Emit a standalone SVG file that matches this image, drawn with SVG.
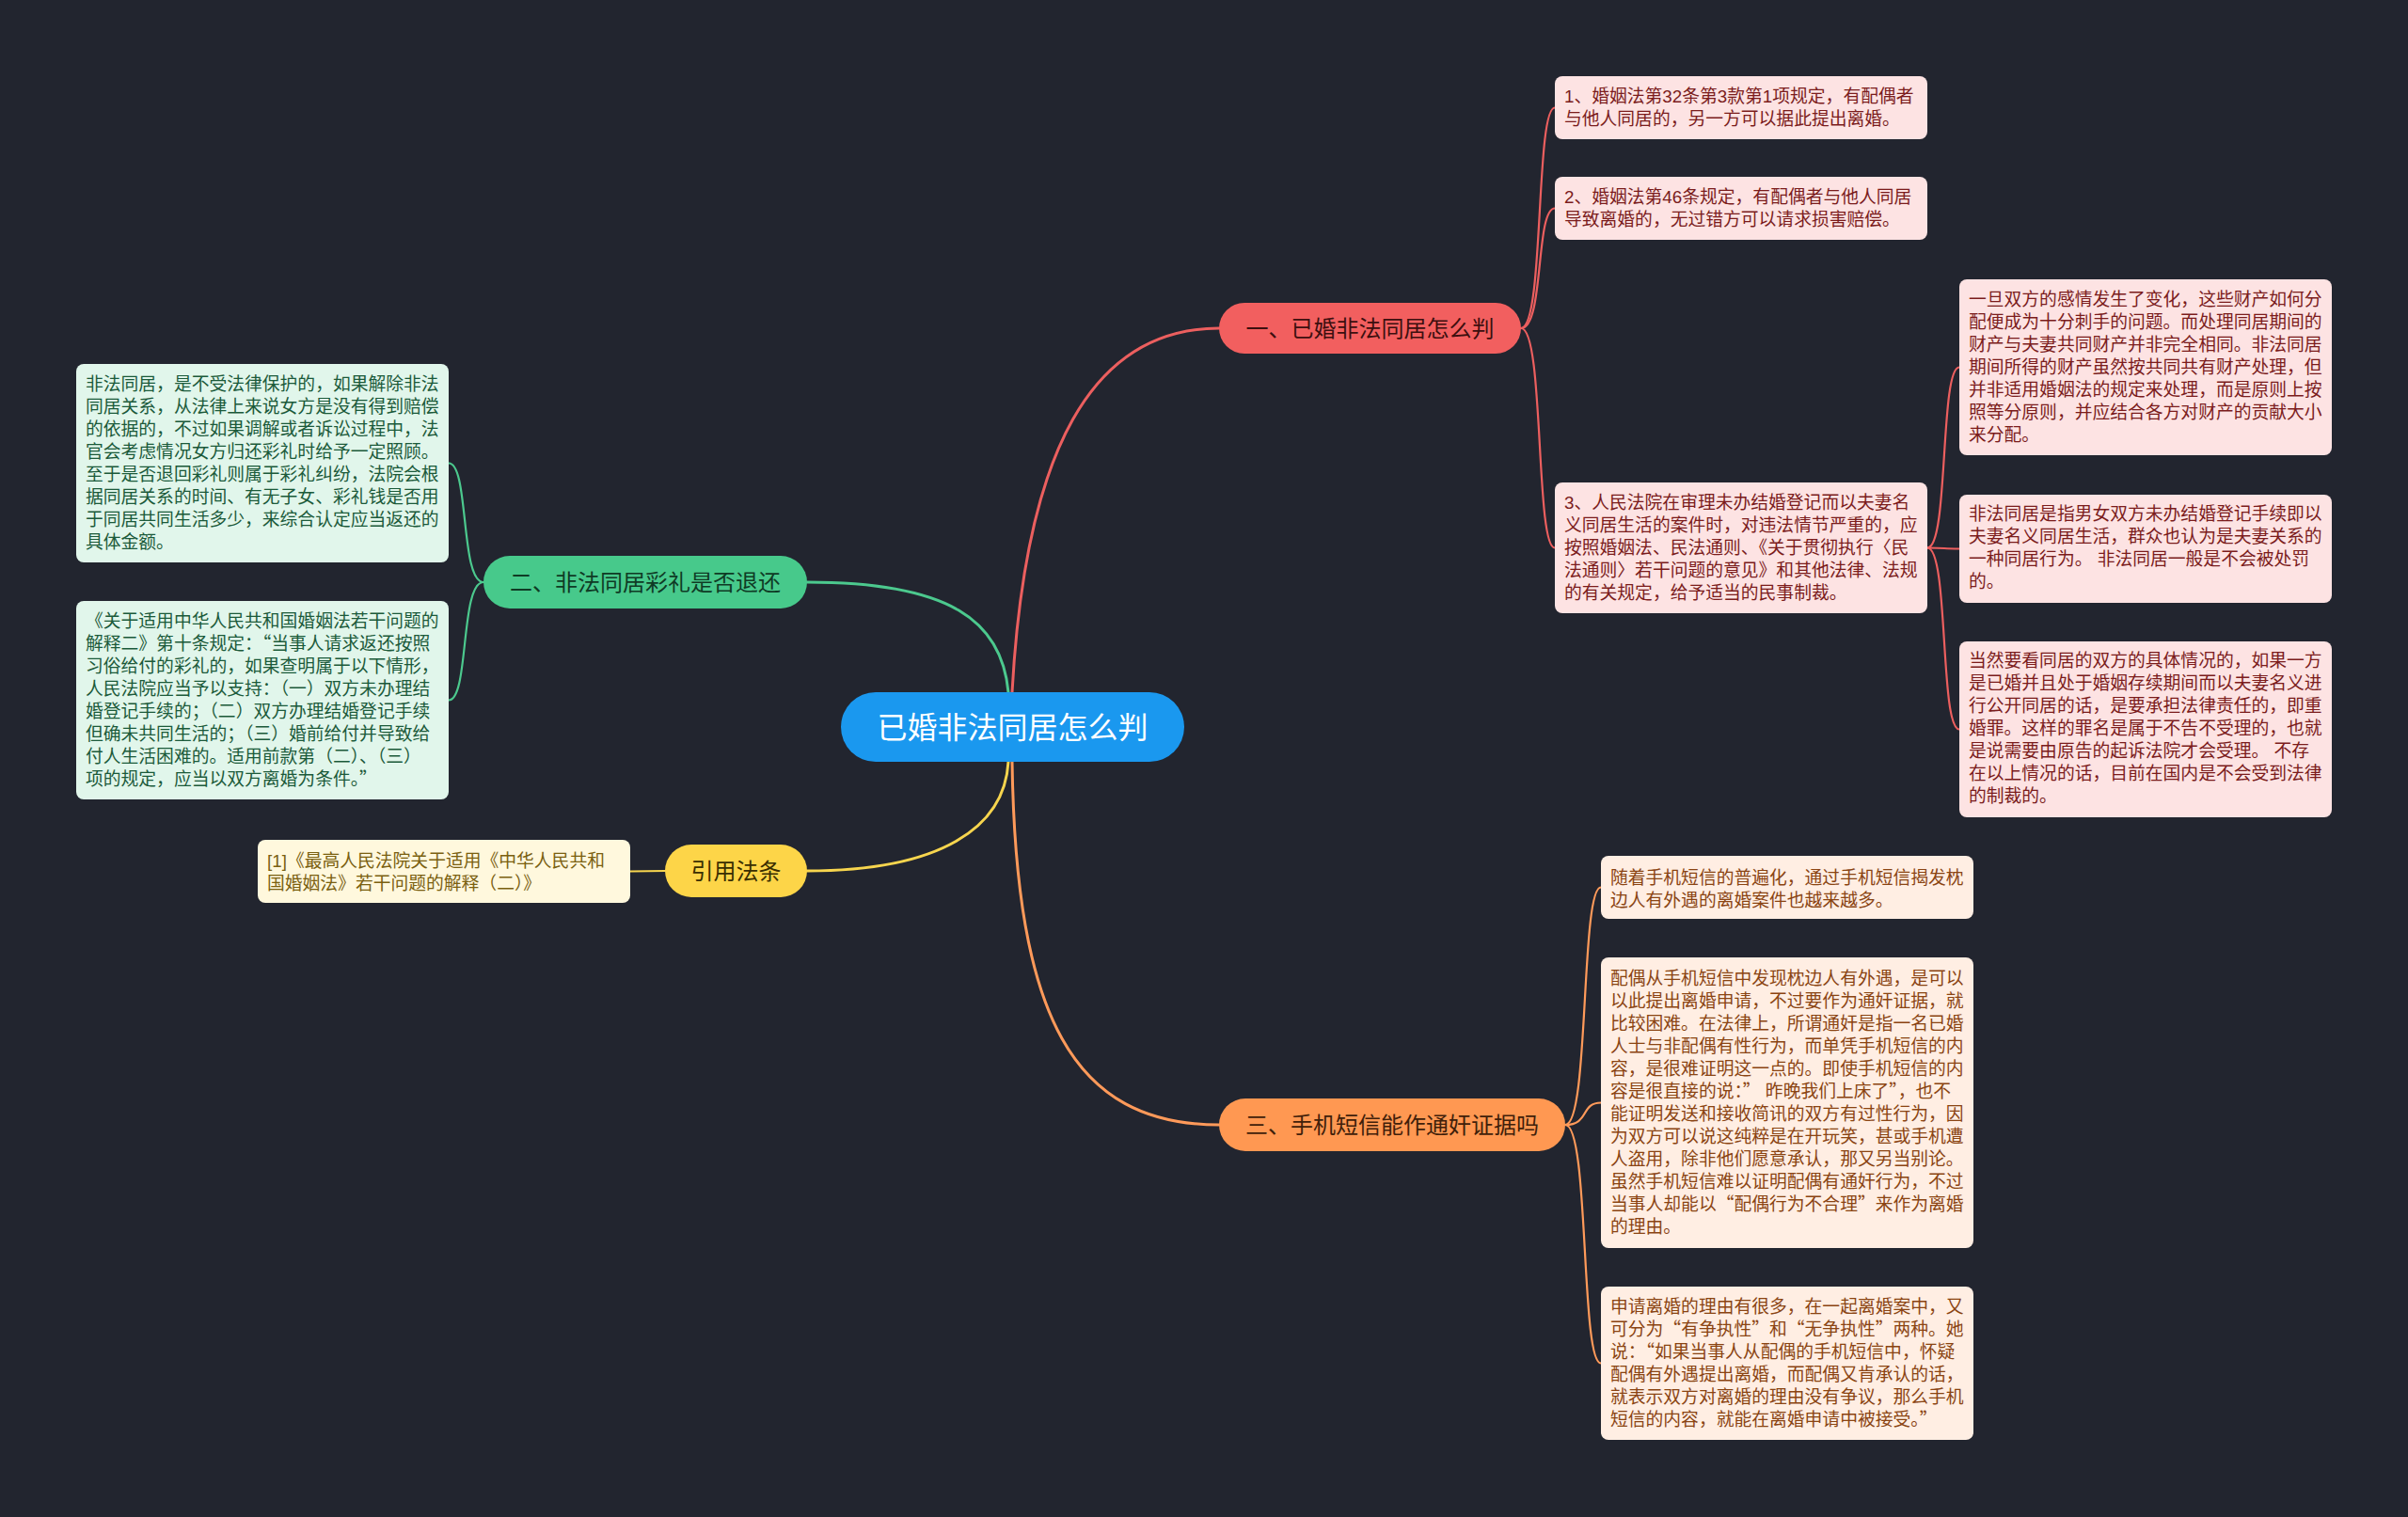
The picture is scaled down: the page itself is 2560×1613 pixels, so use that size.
<svg xmlns="http://www.w3.org/2000/svg" width="2560" height="1613" viewBox="0 0 2560 1613">
<style>
text{font-family:"Liberation Sans","Noto Sans CJK SC",sans-serif}
.q{font-family:"Noto Sans CJK SC",sans-serif}
.lf{font-size:18.8px}
.br{font-size:24px;text-anchor:middle}
.leaf rect{rx:8px;ry:8px}
.rl rect{fill:#FDE3E3}.rl text{fill:#7B1C1C}
.gl rect{fill:#E1F6EB}.gl text{fill:#1B5A3A}
.yl rect{fill:#FFF8DD}.yl text{fill:#7A6010}
.ol rect{fill:#FFEEE3}.ol text{fill:#8A4412}
.c{fill:none;stroke-linecap:round}
.cr{stroke:#EC5F5F}.cg{stroke:#4CC98E}.cy{stroke:#F7D54E}.co{stroke:#FF9A5A}
.main{stroke-width:3}.sub{stroke-width:2.2}
</style>
<rect width="2560" height="1613" fill="#22252F"/>
<g id="connectors">
<path class="c cr main" d="M1076 736 C1090 480 1160 349 1296 349"/>
<path class="c cg main" d="M1072 736 C1065 660 1010 619 858 619"/>
<path class="c cy main" d="M1072 810 C1068 880 1000 926 858 926"/>
<path class="c co main" d="M1076 810 C1080 1080 1140 1196 1296 1196"/>
<path class="c cr sub" d="M1617 349 C1642 349 1632 114.5 1653 114.5"/>
<path class="c cr sub" d="M1617 349 C1642 349 1632 221.5 1653 221.5"/>
<path class="c cr sub" d="M1617 349 C1642 349 1632 582.5 1653 582.5"/>
<path class="c cr sub" d="M2049 582.5 C2072 582.5 2062 390.5 2083 390.5"/>
<path class="c cr sub" d="M2049 582.5 C2072 582.5 2062 583.5 2083 583.5"/>
<path class="c cr sub" d="M2049 582.5 C2072 582.5 2062 775.5 2083 775.5"/>
<path class="c cg sub" d="M514 619 C489 619 499 492.5 477 492.5"/>
<path class="c cg sub" d="M514 619 C489 619 499 744.5 477 744.5"/>
<path class="c cy sub" d="M707 926 L670 926.5"/>
<path class="c co sub" d="M1664 1196 C1690 1196 1680 943.5 1702 943.5"/>
<path class="c co sub" d="M1664 1196 C1690 1196 1680 1172.5 1702 1172.5"/>
<path class="c co sub" d="M1664 1196 C1690 1196 1680 1449.5 1702 1449.5"/>
</g>
<g id="center">
<rect x="894" y="736" width="365" height="74" rx="37" fill="#1A98EF"/>
<text x="1076.5" y="785" font-size="32" text-anchor="middle" fill="#FFFFFF">已婚非法同居怎么判</text>
</g>
<g id="branch1">
<rect x="1296" y="322" width="321" height="54" rx="27" fill="#F25F5F"/>
<text class="br" x="1456.5" y="358" fill="#3D0F0F">一、已婚非法同居怎么判</text>
</g>
<g id="branch2">
<rect x="514" y="591" width="344" height="56" rx="28" fill="#47C98B"/>
<text class="br" x="686" y="628" fill="#0F3B25">二、非法同居彩礼是否退还</text>
</g>
<g id="branch3">
<rect x="707" y="898" width="151" height="56" rx="28" fill="#FDD548"/>
<text class="br" x="782.5" y="935" fill="#3A2E00">引用法条</text>
</g>
<g id="branch4">
<rect x="1296" y="1168" width="368" height="56" rx="28" fill="#FF9852"/>
<text class="br" x="1480" y="1205" fill="#40200A">三、手机短信能作通奸证据吗</text>
</g>
<g id="leaf-r1" class="leaf rl">
<rect x="1653" y="81" width="396" height="67"/>
<text class="lf" x="1663" y="109">1、婚姻法第32条第3款第1项规定，有配偶者<tspan x="1663" dy="24">与他人同居的，另一方可以据此提出离婚。</tspan></text>
</g>
<g id="leaf-r2" class="leaf rl">
<rect x="1653" y="188" width="396" height="67"/>
<text class="lf" x="1663" y="216">2、婚姻法第46条规定，有配偶者与他人同居<tspan x="1663" dy="24">导致离婚的，无过错方可以请求损害赔偿。</tspan></text>
</g>
<g id="leaf-r3" class="leaf rl">
<rect x="1653" y="513" width="396" height="139"/>
<text class="lf" x="1663" y="541">3、人民法院在审理未办结婚登记而以夫妻名<tspan x="1663" dy="24">义同居生活的案件时，对违法情节严重的，应</tspan><tspan x="1663" dy="24">按照婚姻法、民法通则、《关于贯彻执行〈民</tspan><tspan x="1663" dy="24">法通则〉若干问题的意见》和其他法律、法规</tspan><tspan x="1663" dy="24">的有关规定，给予适当的民事制裁。</tspan></text>
</g>
<g id="leaf-r3a" class="leaf rl">
<rect x="2083" y="297" width="396" height="187"/>
<text class="lf" x="2093" y="325">一旦双方的感情发生了变化，这些财产如何分<tspan x="2093" dy="24">配便成为十分刺手的问题。而处理同居期间的</tspan><tspan x="2093" dy="24">财产与夫妻共同财产并非完全相同。非法同居</tspan><tspan x="2093" dy="24">期间所得的财产虽然按共同共有财产处理，但</tspan><tspan x="2093" dy="24">并非适用婚姻法的规定来处理，而是原则上按</tspan><tspan x="2093" dy="24">照等分原则，并应结合各方对财产的贡献大小</tspan><tspan x="2093" dy="24">来分配。</tspan></text>
</g>
<g id="leaf-r3b" class="leaf rl">
<rect x="2083" y="526" width="396" height="115"/>
<text class="lf" x="2093" y="553">非法同居是指男女双方未办结婚登记手续即以<tspan x="2093" dy="24">夫妻名义同居生活，群众也认为是夫妻关系的</tspan><tspan x="2093" dy="24">一种同居行为。 非法同居一般是不会被处罚</tspan><tspan x="2093" dy="24">的。</tspan></text>
</g>
<g id="leaf-r3c" class="leaf rl">
<rect x="2083" y="682" width="396" height="187"/>
<text class="lf" x="2093" y="709">当然要看同居的双方的具体情况的，如果一方<tspan x="2093" dy="24">是已婚并且处于婚姻存续期间而以夫妻名义进</tspan><tspan x="2093" dy="24">行公开同居的话，是要承担法律责任的，即重</tspan><tspan x="2093" dy="24">婚罪。这样的罪名是属于不告不受理的，也就</tspan><tspan x="2093" dy="24">是说需要由原告的起诉法院才会受理。 不存</tspan><tspan x="2093" dy="24">在以上情况的话，目前在国内是不会受到法律</tspan><tspan x="2093" dy="24">的制裁的。</tspan></text>
</g>
<g id="leaf-g1" class="leaf gl">
<rect x="81" y="387" width="396" height="211"/>
<text class="lf" x="91" y="415">非法同居，是不受法律保护的，如果解除非法<tspan x="91" dy="24">同居关系，从法律上来说女方是没有得到赔偿</tspan><tspan x="91" dy="24">的依据的，不过如果调解或者诉讼过程中，法</tspan><tspan x="91" dy="24">官会考虑情况女方归还彩礼时给予一定照顾。</tspan><tspan x="91" dy="24">至于是否退回彩礼则属于彩礼纠纷，法院会根</tspan><tspan x="91" dy="24">据同居关系的时间、有无子女、彩礼钱是否用</tspan><tspan x="91" dy="24">于同居共同生活多少，来综合认定应当返还的</tspan><tspan x="91" dy="24">具体金额。</tspan></text>
</g>
<g id="leaf-g2" class="leaf gl">
<rect x="81" y="639" width="396" height="211"/>
<text class="lf" x="91" y="667">《关于适用中华人民共和国婚姻法若干问题的<tspan x="91" dy="24">解释二》第十条规定：<tspan class="q">“</tspan>当事人请求返还按照</tspan><tspan x="91" dy="24">习俗给付的彩礼的，如果查明属于以下情形，</tspan><tspan x="91" dy="24">人民法院应当予以支持：（一）双方未办理结</tspan><tspan x="91" dy="24">婚登记手续的；（二）双方办理结婚登记手续</tspan><tspan x="91" dy="24">但确未共同生活的；（三）婚前给付并导致给</tspan><tspan x="91" dy="24">付人生活困难的。适用前款第（二）、（三）</tspan><tspan x="91" dy="24">项的规定，应当以双方离婚为条件。<tspan class="q">”</tspan></tspan></text>
</g>
<g id="leaf-y1" class="leaf yl">
<rect x="274" y="893" width="396" height="67"/>
<text class="lf" x="284" y="922">[1]《最高人民法院关于适用《中华人民共和<tspan x="284" dy="24">国婚姻法》若干问题的解释（二）》</tspan></text>
</g>
<g id="leaf-o1" class="leaf ol">
<rect x="1702" y="910" width="396" height="67"/>
<text class="lf" x="1712" y="940">随着手机短信的普遍化，通过手机短信揭发枕<tspan x="1712" dy="24">边人有外遇的离婚案件也越来越多。</tspan></text>
</g>
<g id="leaf-o2" class="leaf ol">
<rect x="1702" y="1018" width="396" height="309"/>
<text class="lf" x="1712" y="1047">配偶从手机短信中发现枕边人有外遇，是可以<tspan x="1712" dy="24">以此提出离婚申请，不过要作为通奸证据，就</tspan><tspan x="1712" dy="24">比较困难。在法律上，所谓通奸是指一名已婚</tspan><tspan x="1712" dy="24">人士与非配偶有性行为，而单凭手机短信的内</tspan><tspan x="1712" dy="24">容，是很难证明这一点的。即使手机短信的内</tspan><tspan x="1712" dy="24">容是很直接的说：<tspan class="q">”</tspan> 昨晚我们上床了<tspan class="q">”</tspan>，也不</tspan><tspan x="1712" dy="24">能证明发送和接收简讯的双方有过性行为，因</tspan><tspan x="1712" dy="24">为双方可以说这纯粹是在开玩笑，甚或手机遭</tspan><tspan x="1712" dy="24">人盗用，除非他们愿意承认，那又另当别论。</tspan><tspan x="1712" dy="24">虽然手机短信难以证明配偶有通奸行为，不过</tspan><tspan x="1712" dy="24">当事人却能以<tspan class="q">“</tspan>配偶行为不合理<tspan class="q">”</tspan>来作为离婚</tspan><tspan x="1712" dy="24">的理由。</tspan></text>
</g>
<g id="leaf-o3" class="leaf ol">
<rect x="1702" y="1368" width="396" height="163"/>
<text class="lf" x="1712" y="1396">申请离婚的理由有很多，在一起离婚案中，又<tspan x="1712" dy="24">可分为<tspan class="q">“</tspan>有争执性<tspan class="q">”</tspan>和<tspan class="q">“</tspan>无争执性<tspan class="q">”</tspan>两种。她</tspan><tspan x="1712" dy="24">说：<tspan class="q">“</tspan>如果当事人从配偶的手机短信中，怀疑</tspan><tspan x="1712" dy="24">配偶有外遇提出离婚，而配偶又肯承认的话，</tspan><tspan x="1712" dy="24">就表示双方对离婚的理由没有争议，那么手机</tspan><tspan x="1712" dy="24">短信的内容，就能在离婚申请中被接受。<tspan class="q">”</tspan></tspan></text>
</g>
</svg>
